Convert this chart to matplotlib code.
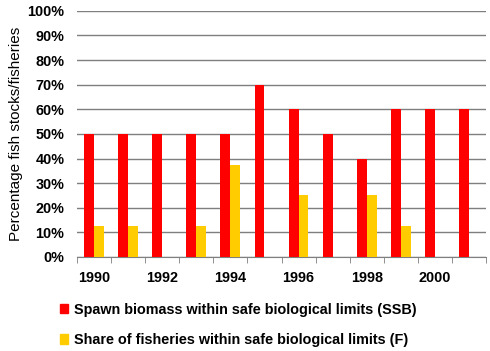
import numpy as np
import matplotlib.pyplot as plt
from matplotlib.patches import Patch

plt.rcParams['font.family'] = ['Liberation Sans', 'DejaVu Sans']

years = list(range(1990, 2002))
ssb = [50, 50, 50, 50, 50, 70, 60, 50, 40, 60, 60, 60]
fish = [12.5, 12.5, 0, 12.5, 37.5, 0, 25, 0, 25, 12.5, 0, 0]
year_labels = ['1990', '1992', '1994', '1996', '1998', '2000']

red = '#FF0000'
yellow = '#FFCC00'

fig = plt.figure(figsize=(4.9, 3.51), dpi=100)
ax = fig.add_axes([0.157, 0.268, 0.835, 0.701])

x = np.arange(len(years))
w = 0.29
ax.bar(x - w / 2, ssb, w, color=red, zorder=3)
ax.bar(x + w / 2, fish, w, color=yellow, zorder=3)

ax.set_xlim(-0.5, len(years) - 0.5)
ax.set_ylim(0, 100)
ax.set_yticks(range(0, 101, 10))
ax.set_yticklabels([f'{v}%' for v in range(0, 101, 10)], fontsize=10.4, fontweight='bold')
ax.tick_params(axis='y', length=0, pad=9)
ax.yaxis.grid(True, color='#7f7f7f', lw=1)
ax.set_axisbelow(True)

ax.set_xticks(x[::2])
ax.set_xticklabels(year_labels, fontsize=10.4, fontweight='bold')
ax.set_xticks(np.arange(len(years) + 1) - 0.5, minor=True)
ax.tick_params(axis='x', which='major', length=0, pad=10)
ax.tick_params(axis='x', which='minor', length=4, color='#7f7f7f')

for s in ['top', 'right', 'left']:
    ax.spines[s].set_visible(False)
ax.spines['bottom'].set_color('#7f7f7f')

ax.set_ylabel('Percentage fish stocks/fisheries', fontsize=11, labelpad=3)

handles = [Patch(color=red), Patch(color=yellow)]
labels = ['Spawn biomass within safe biological limits (SSB)',
          'Share of fisheries within safe biological limits (F)']
fig.legend(handles, labels, loc='upper left', bbox_to_anchor=(0.122, 0.138),
           frameon=False, prop={'size': 10.4, 'weight': 'bold'},
           handlelength=0.6, handleheight=0.6, handletextpad=0.4,
           labelspacing=1.15, borderaxespad=0, borderpad=0)

fig.savefig('out.png', dpi=100)
